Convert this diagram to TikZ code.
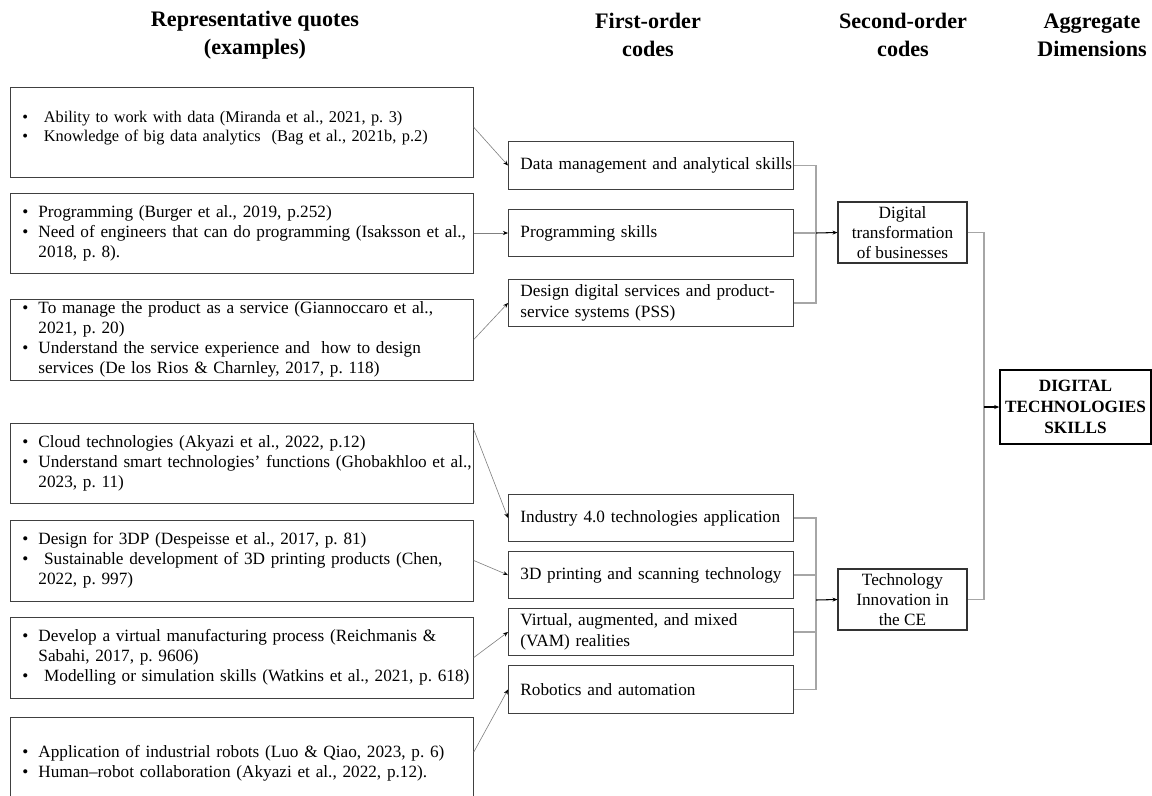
\documentclass[tikz,border=0pt]{standalone}
\usepackage{fontspec}
\setmainfont{Liberation Serif}
\usetikzlibrary{arrows.meta}
\frenchspacing
\newcommand{\bul}[1]{\mbox{\makebox[0.32cm][l]{\textbullet}#1}}
\newcommand{\cont}[1]{\mbox{\hspace*{0.32cm}#1}}

\begin{document}
\begin{tikzpicture}[x=0.02cm,y=-0.02cm,
  quote/.style={draw=black!75,line width=0.5pt,anchor=west,text width=8.78cm,inner xsep=0.24cm,inner ysep=0pt,align=left,font=\fontsize{9.8}{11.4}\selectfont},
  code/.style={draw=black!75,line width=0.5pt,anchor=west,text width=5.22cm,inner xsep=0.24cm,inner ysep=0pt,minimum height=0.95cm,align=left,font=\fontsize{9.8}{11.8}\selectfont},
  theme/.style={draw=black!80,line width=0.6pt,minimum width=2.58cm,minimum height=1.22cm,inner sep=0pt,align=center,font=\fontsize{9.8}{11.6}\selectfont},
  dim/.style={draw,line width=0.9pt,minimum width=3.02cm,minimum height=1.48cm,inner sep=0pt,align=center,font=\bfseries\fontsize{9.8}{11.9}\selectfont},
  head/.style={align=center,font=\bfseries\fontsize{12.6}{15.9}\selectfont},
  qarr/.style={draw=black!50,line width=0.35pt,-{Stealth[black,length=1mm,width=0.8mm]}},
  link/.style={draw=black!35,line width=0.6pt},
  arr/.style={draw=black,line width=0.6pt,-{Stealth[length=1mm,width=0.8mm]}}]
\useasboundingbox (0,0) rectangle (1152,795);
\clip (0,0) rectangle (1152,795);

% column titles
\node[head] (hq) at (255,35) {Representative quotes\\(examples)};
\node[head] (hf) at (648,35) {First-order\\codes};
\node[head] (hs) at (903,35) {Second-order\\codes};
\node[head] (ha) at (1092,35) {Aggregate\\Dimensions};

% quotes
\node[quote,anchor=north west,inner ysep=0.47cm,text depth=0.63cm,font=\fontsize{9.3}{10.8}\selectfont] (q1) at (10,87) {\bul{\ Ability to work with data (Miranda et al., 2021, p. 3)}\\\bul{\ Knowledge of big data analytics\ \ (Bag et al., 2021b, p.2)}};
\node[quote,minimum height=1.6cm] (q2) at (10,233) {\bul{Programming (Burger et al., 2019, p.252)}\\\bul{Need of engineers that can do programming (Isaksson et al.,}\\\cont{2018, p. 8).}};
\node[quote,minimum height=1.62cm] (q3) at (10,339.5) {\bul{To manage the product as a service (Giannoccaro et al.,}\\\cont{2021, p. 20)}\\\bul{Understand the service experience and\ \ how to design}\\\cont{services (De los Rios \& Charnley, 2017, p. 118)}};
\node[quote,minimum height=1.6cm] (q4) at (10,463) {\bul{Cloud technologies (Akyazi et al., 2022, p.12)}\\\bul{Understand smart technologies' functions (Ghobakhloo et al.,}\\\cont{2023, p. 11)}};
\node[quote,minimum height=1.62cm] (q5) at (10,560.5) {\bul{Design for 3DP (Despeisse et al., 2017, p. 81)}\\\bul{\ Sustainable development of 3D printing products (Chen,}\\\cont{2022, p. 997)}};
\node[quote,minimum height=1.62cm] (q6) at (10,657.5) {\bul{Develop a virtual manufacturing process (Reichmanis \&}\\\cont{Sabahi, 2017, p. 9606)}\\\bul{\ Modelling or simulation skills\ (Watkins et al., 2021, p. 618)}};
\node[quote,minimum height=1.84cm] (q7) at (10,763) {\bul{Application of industrial robots (Luo \& Qiao, 2023, p. 6)}\\\bul{Human--robot collaboration (Akyazi et al., 2022, p.12).}};

% first-order codes
\node[code] (f1) at (508,165.5) {\mbox{Data management and analytical skills}};
\node[code] (f2) at (508,233) {Programming skills};
\node[code] (f3) at (508,303) {\mbox{Design digital services and product-}\\\mbox{service systems (PSS)}};
\node[code] (f4) at (508,518) {\mbox{Industry 4.0 technologies application}};
\node[code] (f5) at (508,575) {\mbox{3D printing and scanning technology}};
\node[code] (f6) at (508,632) {\mbox{Virtual, augmented, and mixed}\\\mbox{(VAM) realities}};
\node[code] (f7) at (508,689.5) {Robotics and automation};

% second-order codes and dimension
\node[theme] (s1) at (902.5,232.5) {Digital\\transformation\\of businesses};
\node[theme] (s2) at (902.5,599.5) {Technology\\Innovation in\\the CE};
\node[dim] (agg) at (1075.5,407) {DIGITAL\\TECHNOLOGIES\\SKILLS};

\coordinate (j1) at (816,233);
\coordinate (j2) at (816,600);
\coordinate (j3) at (984,407);

\draw[qarr] ([yshift=0.1cm]q1.east) -- (f1.west);
\draw[qarr] (q2.east) -- (f2.west);
\draw[qarr] (q3.east) -- (f3.west);
\draw[qarr] ([yshift=-0.14cm]q4.north east) -- (f4.west);
\draw[qarr] (q5.east) -- (f5.west);
\draw[qarr] (q6.east) -- (f6.west);
\draw[qarr] ([yshift=0.22cm]q7.east) -- (f7.west);

\draw[link] (f1.east) -| (j1) |- (f3.east);
\draw[link] (f2.east) -- (j1);
\draw[arr] (j1) -- (s1.west);
\draw[link] (f4.east) -| (j2) |- (f7.east);
\draw[link] (f5.east) -| (j2);
\draw[link] (f6.east) -| (j2);
\draw[arr] (j2) -- (s2.west);
\draw[link] (s1.east) -| (j3) |- (s2.east);
\draw[arr] (j3) -- (agg.west);
\end{tikzpicture}
\end{document}
